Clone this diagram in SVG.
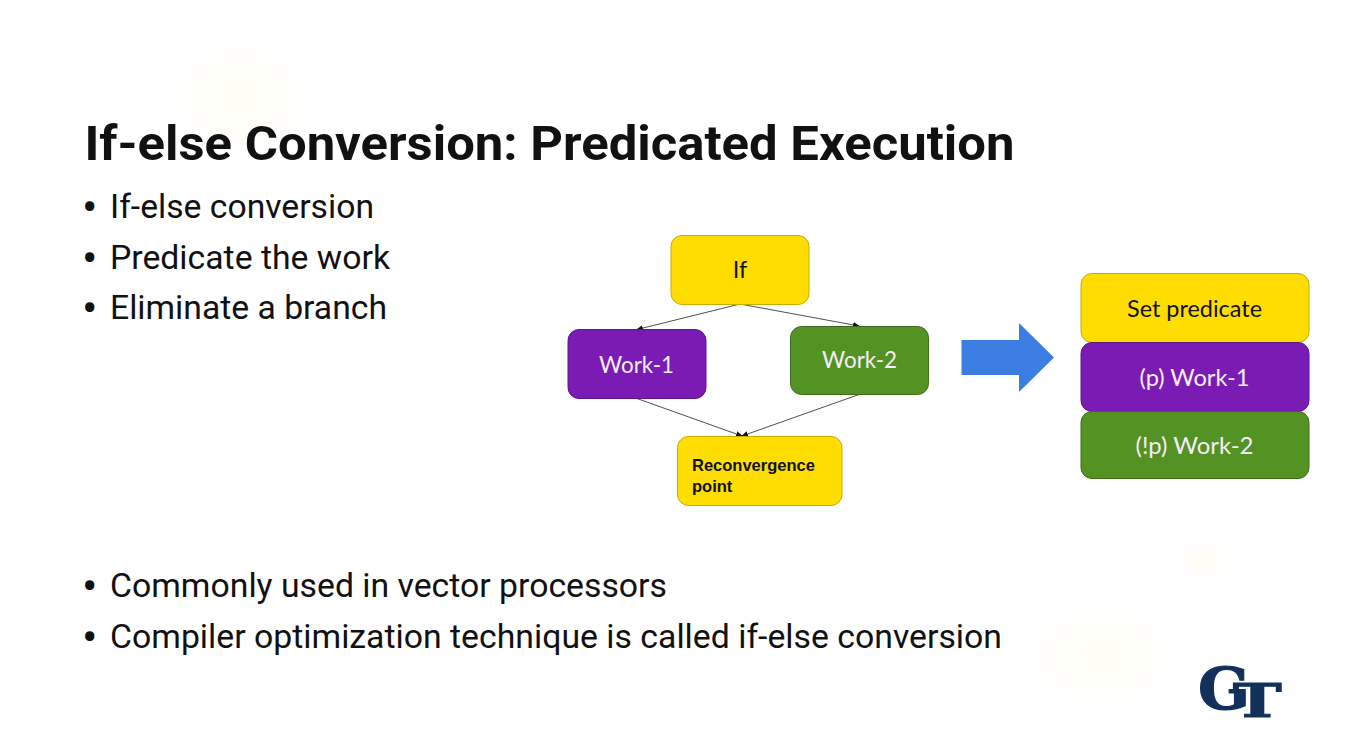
<svg xmlns="http://www.w3.org/2000/svg" width="1345" height="751" viewBox="0 0 1345 751">
<style>
.t{font-family:Roboto,"Liberation Sans",sans-serif;font-size:33px;fill:#111}
.b{font-family:Roboto,"Liberation Sans",sans-serif;font-size:46px;fill:#111}
.n{font-family:Lato,"Open Sans",sans-serif;font-size:23.500px;text-anchor:middle}
.r{font-family:"Liberation Sans",Arial,sans-serif;font-size:16.500px;font-weight:700;fill:#111}
.w{fill:#f4eef8}
.y{fill:#ffdd00;stroke:#c9a900;stroke-width:1}
.p{fill:#7a1cb4;stroke:#5c1788;stroke-width:1}
.g{fill:#539223;stroke:#3c6c1a;stroke-width:1}
.c{stroke:#222;stroke-width:.8;fill:none;marker-end:url(#a)}
</style>
<defs>
<marker id="a" markerWidth="7" markerHeight="6" refX="6" refY="3" orient="auto" markerUnits="userSpaceOnUse"><path d="M0 0L7 3L0 6z" fill="#111"/></marker>
<radialGradient id="s"><stop offset="0" stop-color="#fffef5"/><stop offset=".5" stop-color="#fffef8"/><stop offset="1" stop-color="#fff" stop-opacity="0"/></radialGradient>
</defs>
<rect width="1345" height="751" fill="#fff"/>
<ellipse cx="240" cy="100" rx="75" ry="65" fill="url(#s)"/>
<ellipse cx="1100" cy="655" rx="80" ry="55" fill="url(#s)"/>
<ellipse cx="1205" cy="560" rx="30" ry="22" fill="url(#s)"/>
<text x="84.500" y="160" font-family="Roboto,'Liberation Sans',sans-serif" font-size="48" font-weight="700" fill="#111" textLength="930" lengthAdjust="spacingAndGlyphs">If-else Conversion: Predicated Execution</text>
<g id="bullets">
<text class="b" x="82" y="223">•</text><text class="t" x="110" y="218" textLength="264" lengthAdjust="spacingAndGlyphs">If-else conversion</text>
<text class="b" x="82" y="274">•</text><text class="t" x="110" y="268.500" textLength="280" lengthAdjust="spacingAndGlyphs">Predicate the work</text>
<text class="b" x="82" y="324">•</text><text class="t" x="110" y="319" textLength="277" lengthAdjust="spacingAndGlyphs">Eliminate a branch</text>
<text class="b" x="82" y="602">•</text><text class="t" x="110" y="596.500" textLength="557" lengthAdjust="spacingAndGlyphs">Commonly used in vector processors</text>
<text class="b" x="82" y="653">•</text><text class="t" x="110" y="647.500" textLength="892" lengthAdjust="spacingAndGlyphs">Compiler optimization technique is called if-else conversion</text>
</g>
<g id="connectors">
<path class="c" d="M740 304L637 329.500"/>
<path class="c" d="M740 304L859 326"/>
<path class="c" d="M637 398.500L742 436"/>
<path class="c" d="M859 394.500L742 436"/>
</g>
<g id="node-if"><rect class="y" x="671" y="235.500" width="138" height="69" rx="11"/><text class="n" x="740" y="278" fill="#111">If</text></g>
<g id="node-work1"><rect class="p" x="568" y="329.500" width="138" height="69" rx="11"/><text class="n w" x="636.500" y="373" textLength="75" lengthAdjust="spacingAndGlyphs">Work-1</text></g>
<g id="node-work2"><rect class="g" x="790.500" y="326.500" width="138" height="68" rx="11"/><text class="n w" x="859.500" y="368" textLength="75" lengthAdjust="spacingAndGlyphs">Work-2</text></g>
<g id="node-reconv"><rect class="y" x="677.500" y="436.500" width="164.500" height="69" rx="11"/>
<text class="r" x="692" y="470.500">Reconvergence</text>
<text class="r" x="692" y="491.500">point</text></g>
<g id="arrow"><polygon points="961.500,340 1019,340 1019,323 1054,357.500 1019,392 1019,375 961.500,375" fill="#3c7de2"/></g>
<g id="node-set"><rect class="y" x="1081" y="273.500" width="228" height="69" rx="11"/><text class="n" x="1194.500" y="316.500" fill="#111" textLength="135" lengthAdjust="spacingAndGlyphs">Set predicate</text></g>
<g id="node-pw1"><rect class="p" x="1081" y="342.500" width="228" height="69" rx="11"/><text class="n w" x="1194.500" y="386" textLength="110" lengthAdjust="spacingAndGlyphs">(p) Work-1</text></g>
<g id="node-pw2"><rect class="g" x="1081" y="411.500" width="228" height="67" rx="11"/><text class="n w" x="1194.500" y="454" textLength="118" lengthAdjust="spacingAndGlyphs">(!p) Work-2</text></g>
<g id="logo" font-family="'DejaVu Serif',serif" font-weight="700" fill="#12315a" stroke="#12315a">
<text x="1198" y="708.500" font-size="58" stroke-width="1.200" textLength="52" lengthAdjust="spacingAndGlyphs">G</text>
<text x="0" y="0" transform="translate(1233 716.500) scale(1.420 1)" font-size="46" stroke-width="1.200">T</text>
</g>
</svg>
